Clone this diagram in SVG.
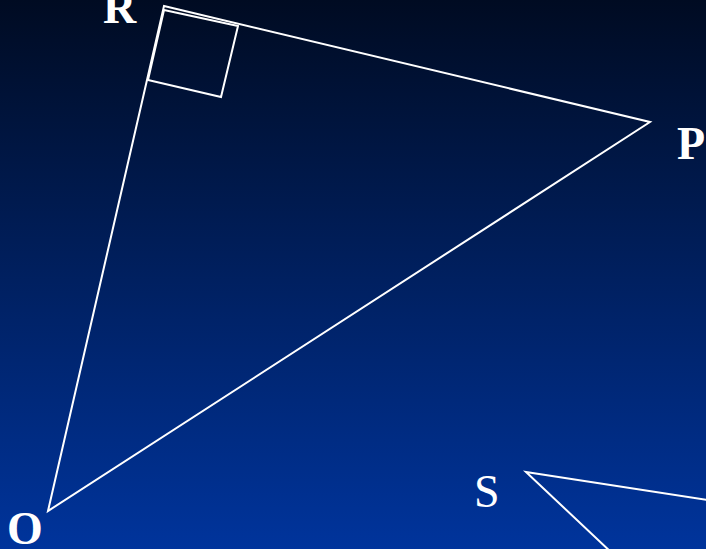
<svg xmlns="http://www.w3.org/2000/svg" width="706" height="549" viewBox="0 0 706 549">
<defs>
<linearGradient id="bg" x1="0" y1="0" x2="0" y2="1">
<stop offset="0" stop-color="#000b22"/>
<stop offset="1" stop-color="#00349c"/>
</linearGradient>
<style>
.ln{stroke:#fff;stroke-width:2;fill:none;stroke-linejoin:miter}
.lb{font-family:"Liberation Serif","Times New Roman",serif;font-size:46px;fill:#fff;font-weight:bold}
.lr{font-family:"Liberation Serif","Times New Roman",serif;font-size:46px;fill:#fff}
</style>
</defs>
<rect width="706" height="549" fill="url(#bg)"/>
<g id="connectors">
<polygon class="ln" points="48,511 164,6 650,122"/>
<polygon class="ln" points="164,10 238,26 221,97 148,80"/>
<polyline class="ln" points="720,502 526,472 630,570"/>
</g>
<g id="node-R"><text class="lb" x="103" y="23">R</text></g>
<g id="node-P"><text class="lb" x="677" y="159">P</text></g>
<g id="node-O"><text class="lb" x="7" y="544">O</text></g>
<g id="node-S"><text class="lr" x="474" y="507">S</text></g>
</svg>
